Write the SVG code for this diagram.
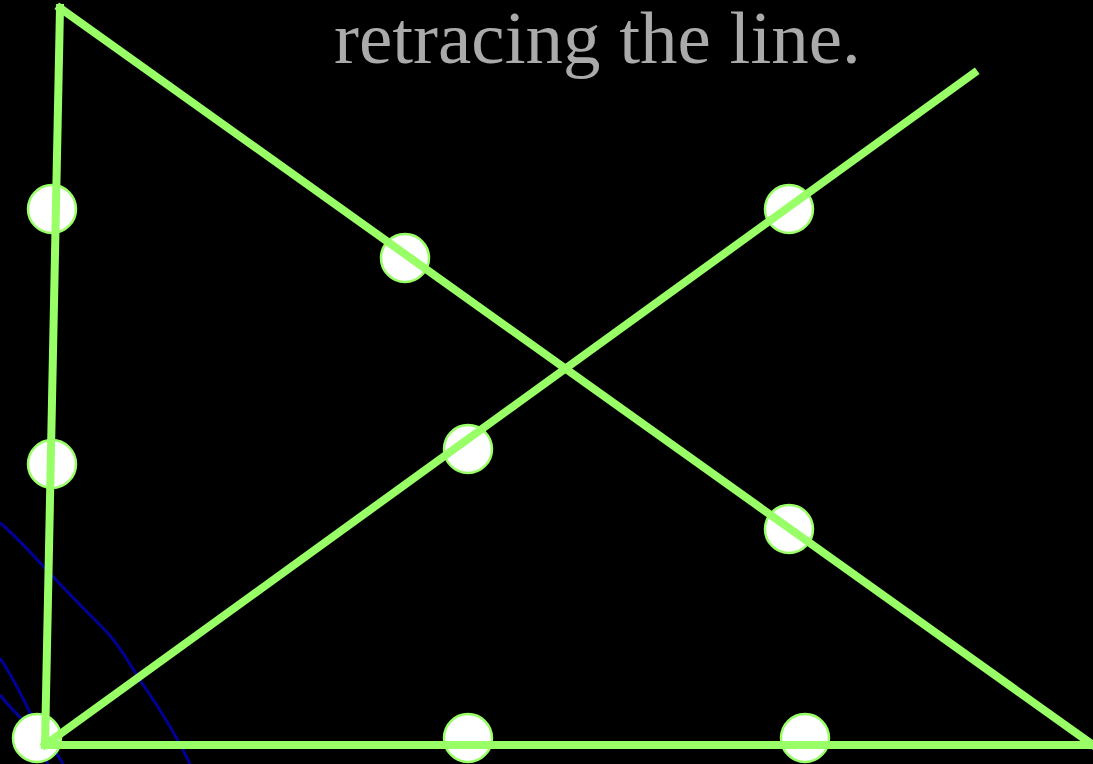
<svg xmlns="http://www.w3.org/2000/svg" width="1093" height="764" viewBox="0 0 1093 764">
<style>
.bg{fill:#000000}
.curve{fill:none;stroke:#000099;stroke-width:3}
.dot{fill:#FFFFFF;stroke:#99FF66;stroke-width:2.5}
.ln{fill:none;stroke:#99FF66;stroke-width:8;stroke-linecap:square}
.title{font-family:"Liberation Serif","Times New Roman",serif;font-size:75px;fill:#AAAAAA}
</style>
<rect class="bg" x="0" y="0" width="1093" height="764"/>
<g id="curves">
<path class="curve" d="M0,523 C15,535 30,552 43,566 S85,610 103,628 S130,665 140,680 S170,722 190,764"/>
<path class="curve" d="M0,658 C12,676 24,700 32,717 S55,748 63,764"/>
<path class="curve" d="M0,695 C8,705 15,712 20,717 S40,748 48,764"/>
</g>
<text class="title" x="334" y="63">retracing the line.</text>
<g id="dots">
<circle id="n1" class="dot" cx="52" cy="209" r="24"/>
<circle id="n2" class="dot" cx="405" cy="258" r="24"/>
<circle id="n3" class="dot" cx="789" cy="209" r="24"/>
<circle id="n4" class="dot" cx="52" cy="464" r="24"/>
<circle id="n5" class="dot" cx="468" cy="449" r="24"/>
<circle id="n6" class="dot" cx="789" cy="529" r="24"/>
<circle id="n7" class="dot" cx="37" cy="738" r="24"/>
<circle id="n8" class="dot" cx="468" cy="738" r="24"/>
<circle id="n9" class="dot" cx="805" cy="738" r="24"/>
</g>
<g id="connectors">
<line class="ln" x1="60" y1="8" x2="45" y2="745"/>
<line class="ln" x1="60" y1="8" x2="1093" y2="745"/>
<line class="ln" x1="45" y1="745" x2="1093" y2="745"/>
<line class="ln" x1="45" y1="745" x2="974" y2="73"/>
</g>
</svg>
